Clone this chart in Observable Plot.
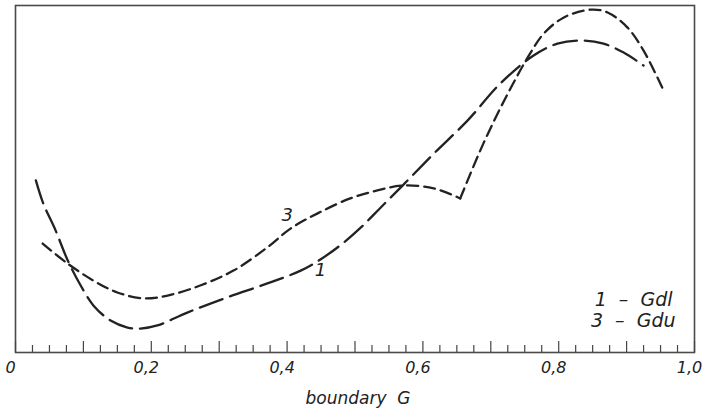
<!DOCTYPE html>
<html>
<head>
<meta charset="utf-8">
<script src="https://cdn.jsdelivr.net/npm/d3@7"></script>
<script src="https://cdn.jsdelivr.net/npm/@observablehq/plot@0.6"></script>
<style>
  html, body { margin: 0; padding: 0; background: #fff; }
  #chart svg { display: block; }
</style>
</head>
<body>
<div id="chart"></div>
<script>
// Curve 1 – Gdl (long dashes)
const gdlG = [0.030, 0.041, 0.059, 0.077, 0.096, 0.115, 0.140, 0.165, 0.184, 0.209, 0.253, 0.312, 0.371, 0.420, 0.449, 0.479, 0.508, 0.538, 0.570, 0.616, 0.666, 0.714, 0.763, 0.798, 0.832, 0.866, 0.895, 0.925];
const gdlV = [49.6, 42.9, 35.2, 26.5, 19.3, 13.5, 9.2, 7.2, 6.9, 7.8, 11.5, 15.9, 19.9, 23.6, 26.8, 31.0, 35.9, 41.8, 48.1, 57.3, 66.9, 77.5, 85.6, 89.0, 89.9, 89.0, 86.5, 82.7];

// Curve 3 – Gdu (short dashes), with a corner at G = 0.655
const gduG = [0.040, 0.077, 0.115, 0.150, 0.189, 0.224, 0.272, 0.321, 0.371, 0.405, 0.445, 0.493, 0.533, 0.570, 0.616, 0.655, 0.689, 0.725, 0.758, 0.778, 0.807, 0.847, 0.872, 0.901, 0.925, 0.953];
const gduV = [31.4, 25.6, 20.7, 17.3, 15.6, 16.4, 19.3, 23.6, 30.3, 35.7, 40.1, 44.4, 46.7, 48.1, 47.3, 44.4, 60.2, 74.6, 86.2, 91.9, 96.5, 98.8, 98.0, 93.7, 87.0, 76.1];
const gduCorner = 0.655;

// Axis ticks and labels
const majorTicks = [0, 0.2, 0.4, 0.6, 0.8, 1.0];
const majorLabels = ["0", "0,2", "0,4", "0,6", "0,8", "1,0"];
const tenthTicks = d3.range(0, 11).map(i => i / 10);
const minorTicks = d3.range(0, 41).map(i => i / 40).filter(v => Math.abs(v * 10 - Math.round(v * 10)) > 1e-6);
const axisTitle = "boundary\u00a0\u00a0G";

// Curve labels and legend
const curveLabels = [
  {text: "3", G: 0.400, v: 39.5},
  {text: "1", G: 0.449, v: 23.6}
];
const legendGdl = "1\u00a0\u00a0\u2013\u00a0\u00a0Gdl";
const legendGdu = "3\u00a0\u00a0\u2013\u00a0\u00a0Gdu";

const gdl = gdlG.map((g, i) => ({G: g, v: gdlV[i]}));
const gdu = gduG.map((g, i) => ({G: g, v: gduV[i]}));
const gduLeft = gdu.filter(d => d.G <= gduCorner);
const gduRight = gdu.filter(d => d.G >= gduCorner);

const ink = "#222";
const font = "'DejaVu Sans', sans-serif";

const chart = Plot.plot({
  width: 702,
  height: 414,
  marginLeft: 15,
  marginRight: 8,
  marginTop: 5,
  marginBottom: 62,
  style: {fontFamily: font, fontStyle: "italic", color: ink, background: "#fff"},
  x: {domain: [0, 1]},
  y: {domain: [0, 100], axis: null},
  marks: [
    Plot.frame({stroke: "#4a4a4a", strokeWidth: 1.6}),
    // inward ticks on the baseline
    Plot.axisX(minorTicks, {tickSize: -7, tickFormat: () => "", label: null, stroke: "#444", strokeWidth: 1.2}),
    Plot.axisX(tenthTicks, {tickSize: -11, tickFormat: () => "", label: null, stroke: "#444", strokeWidth: 1.2}),
    Plot.axisX(majorTicks, {
      tickSize: 0, tickPadding: 9, fontSize: 16, dx: -5,
      tickFormat: d => majorLabels[majorTicks.indexOf(d)],
      label: null
    }),
    Plot.text([axisTitle], {
      frameAnchor: "bottom", text: d => d, dx: 3, dy: 51,
      fontSize: 17, fontStyle: "italic", fill: ink, letterSpacing: 0.5
    }),
    Plot.line(gdl, {x: "G", y: "v", curve: "catmull-rom", stroke: ink, strokeWidth: 2.3, strokeDasharray: "24,8"}),
    Plot.line(gduLeft, {x: "G", y: "v", curve: "catmull-rom", stroke: ink, strokeWidth: 2.3, strokeDasharray: "11,6"}),
    Plot.line(gduRight, {x: "G", y: "v", curve: "catmull-rom", stroke: ink, strokeWidth: 2.3, strokeDasharray: "11,6"}),
    Plot.text(curveLabels, {x: "G", y: "v", text: "text", fontSize: 18, fontStyle: "italic", fill: ink}),
    Plot.text([legendGdl], {
      frameAnchor: "bottom-right", text: d => d, dx: -22, dy: -47,
      fontSize: 19, fontStyle: "italic", fill: ink, textAnchor: "end", letterSpacing: 1.5
    }),
    Plot.text([legendGdu], {
      frameAnchor: "bottom-right", text: d => d, dx: -19, dy: -26,
      fontSize: 19, fontStyle: "italic", fill: ink, textAnchor: "end", letterSpacing: 1.5
    })
  ]
});

document.getElementById("chart").appendChild(chart);
</script>
</body>
</html>
